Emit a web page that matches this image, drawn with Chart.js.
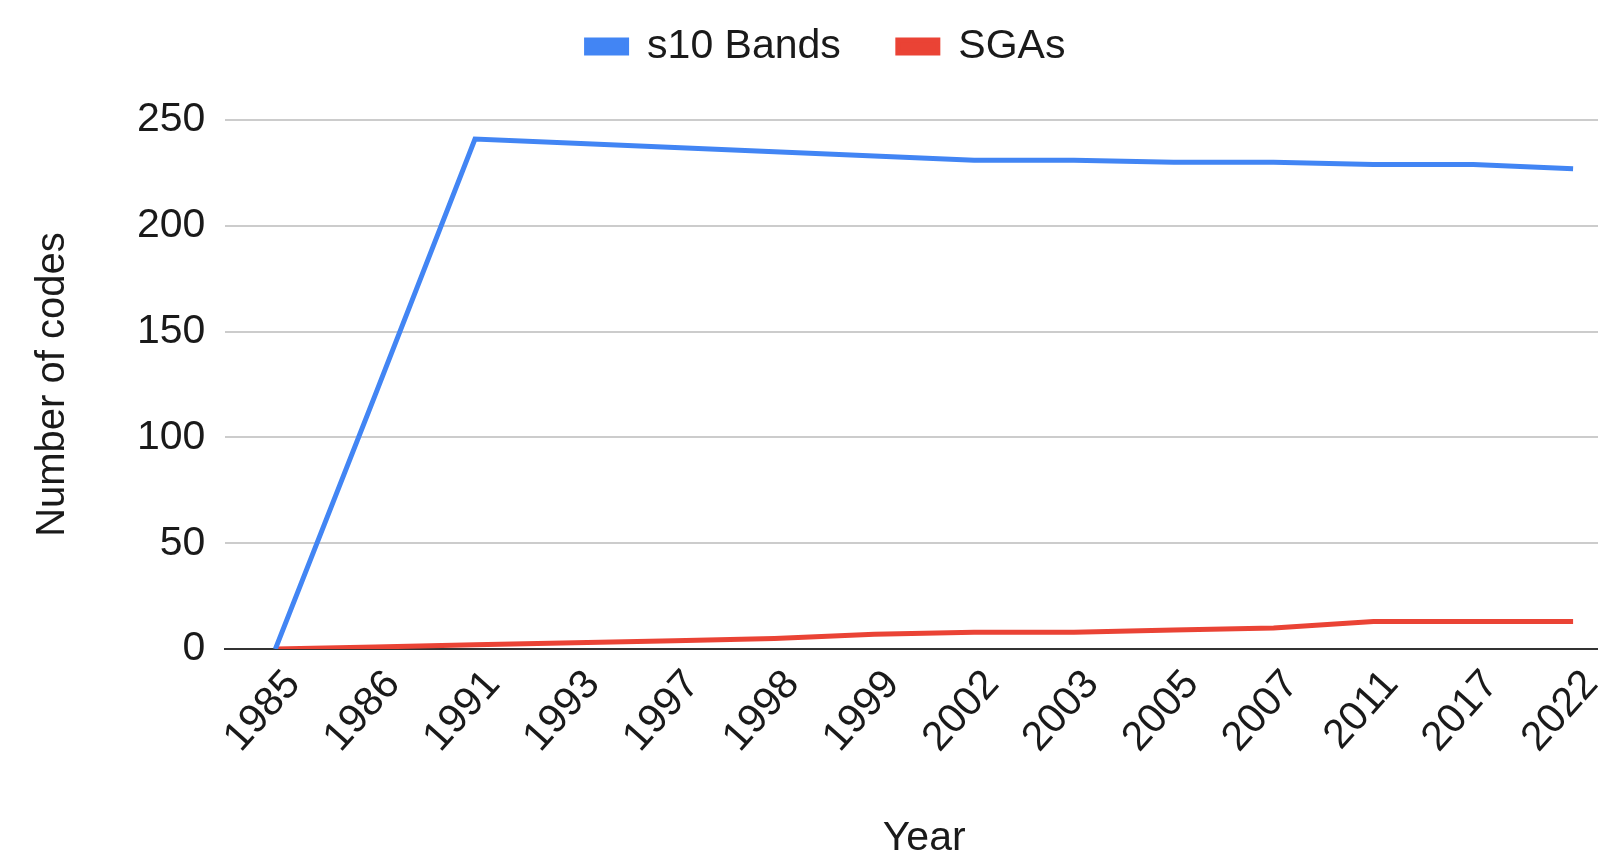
<!DOCTYPE html>
<html>
<head>
<meta charset="utf-8">
<script src="https://cdn.jsdelivr.net/npm/chart.js@4"></script>
<style>
  html, body { margin: 0; padding: 0; background: #fff; overflow: hidden; }
  /* plot runs past the right edge, as in the reference */
  #wrap { width: 1623px; height: 855px; }
</style>
</head>
<body>
<div id="wrap"><canvas id="codes-chart"></canvas></div>
<script>
//Categories and values
var years = ['1985', '1986', '1991', '1993', '1997', '1998', '1999', '2002', '2003', '2005', '2007', '2011', '2017', '2022'];
var s10Bands = [0, 120, 241, 239, 237, 235, 233, 231, 231, 230, 230, 229, 229, 227];
var sgas = [0, 1, 2, 3, 4, 5, 7, 8, 8, 9, 10, 13, 13, 13];
var yTicks = [0, 50, 100, 150, 200, 250];

var fontFamily = "'Liberation Sans', Arial, sans-serif";

//Extra room under the legend
var legendGap = {
  id: 'legendGap',
  beforeLayout: function(chart) {
    if (chart.legend && !chart.legend._gapAdded) {
      var fitLegend = chart.legend.fit;
      chart.legend.fit = function() {
        fitLegend.bind(chart.legend)();
        this.height += 43;
      };
      chart.legend._gapAdded = true;
    }
  }
};

var codesChart = new Chart(document.getElementById("codes-chart"), {
  type: 'line',
  data: {
    labels: years,
    datasets: [{
      label: 's10 Bands',
      data: s10Bands,
      borderColor: '#4285f4',
      backgroundColor: '#4285f4',
      borderWidth: 5,
      pointRadius: 0,
      tension: 0
    }, {
      label: 'SGAs',
      data: sgas,
      borderColor: '#ea4335',
      backgroundColor: '#ea4335',
      borderWidth: 5,
      pointRadius: 0,
      tension: 0
    }]
  },
  plugins: [legendGap],
  options: {
    responsive: true,
    maintainAspectRatio: false,
    animation: false,
    layout: {
      padding: { top: -31, right: 0, left: 29, bottom: -8 }
    },
    plugins: {
      legend: {
        position: 'top',
        labels: {
          boxWidth: 40,
          boxHeight: 13,
          padding: 57,
          color: '#1a1a1a',
          font: { family: fontFamily, size: 41 }
        }
      },
      tooltip: { enabled: false }
    },
    scales: {
      x: {
        offset: true,
        afterFit: function(scale) {
          scale.paddingRight = 0;
        },
        grid: { display: false, drawTicks: false },
        border: { display: true, color: '#333', width: 2 },
        ticks: {
          color: '#1a1a1a',
          padding: 12,
          labelOffset: 18,
          minRotation: 48,
          maxRotation: 48,
          font: { family: fontFamily, size: 41 }
        },
        title: {
          display: true,
          text: 'Year',
          color: '#1a1a1a',
          padding: { top: 40, bottom: 0 },
          font: { family: fontFamily, size: 41 }
        }
      },
      y: {
        min: 0,
        max: 250,
        afterBuildTicks: function(axis) {
          axis.ticks = yTicks.map(function(v) { return { value: v }; });
        },
        grid: {
          drawTicks: false,
          lineWidth: 2,
          color: function(ctx) {
            return ctx.tick && ctx.tick.value === 0 ? '#333' : '#cccccc';
          }
        },
        border: { display: false },
        ticks: {
          color: '#1a1a1a',
          padding: 20,
          font: { family: fontFamily, size: 41 }
        },
        title: {
          display: true,
          text: 'Number of codes',
          color: '#1a1a1a',
          padding: { top: 0, bottom: 40 },
          font: { family: fontFamily, size: 40 }
        }
      }
    }
  }
});
</script>
</body>
</html>
